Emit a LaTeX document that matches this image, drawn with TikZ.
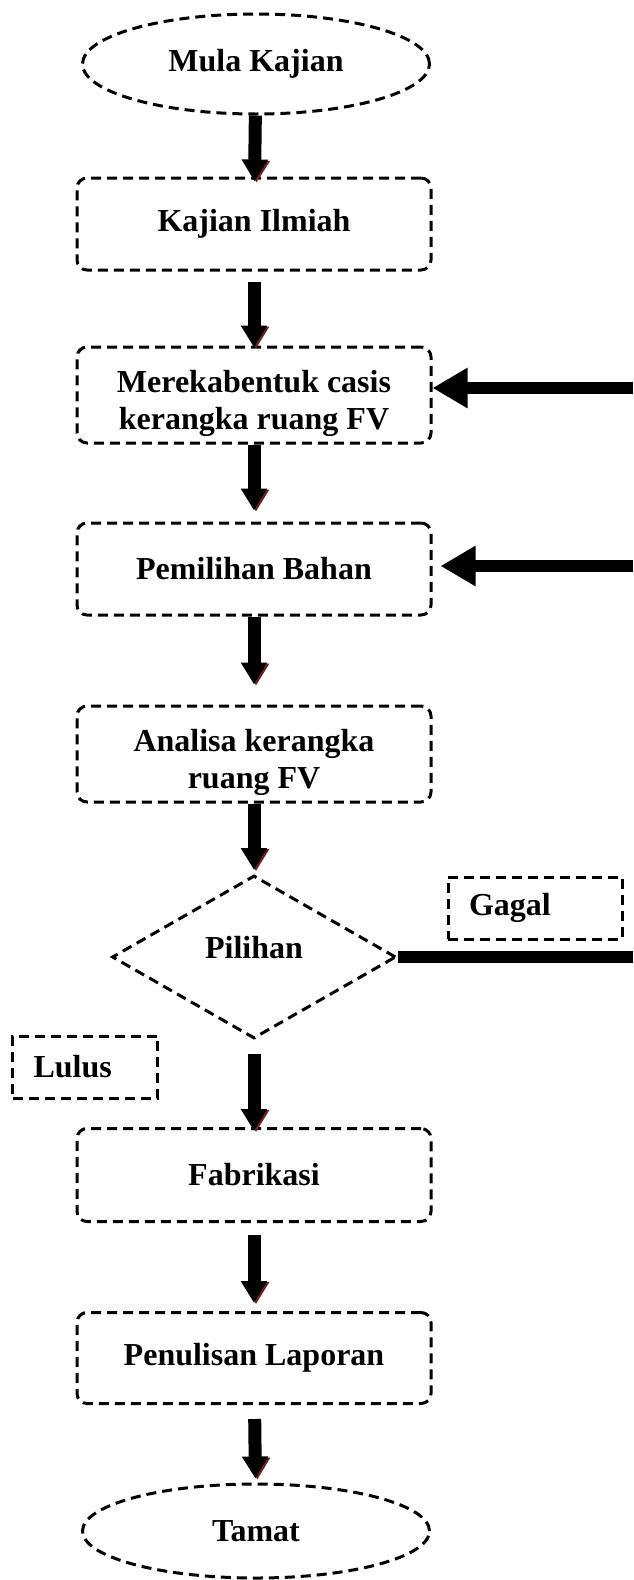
\documentclass[tikz,border=0pt]{standalone}
\usepackage{fontspec}
\setmainfont{Liberation Serif}
\usepackage{xcolor}
\usepackage{tikz}
\usetikzlibrary{positioning,shapes.geometric,arrows.meta}
\definecolor{shadowred}{RGB}{110,35,35}

\begin{document}
\begin{tikzpicture}[x=0.5pt,y=0.5pt,font=\bfseries\fontsize{16}{18.4}\selectfont,
 border/.style={draw,line width=1.5pt,dash pattern=on 5pt off 3pt},
 box/.style={border,rounded corners=5pt,align=center,inner sep=2pt,minimum width=177pt,minimum height=46pt},
 term/.style={border,ellipse,inner sep=0pt,minimum width=173.5pt,minimum height=50pt},
 tag/.style={border,align=left,inner xsep=10.5pt,inner ysep=0pt,minimum height=31pt},
 flow/.style={line width=6.5pt,-{Triangle[width=12.5pt,length=11pt]},
  preaction={draw=shadowred,-{Triangle[width=12.5pt,length=11pt]},transform canvas={xshift=1pt,yshift=-0.6pt}}},
 back/.style={line width=6pt,-{Triangle[width=19pt,length=17.5pt]}}]
\useasboundingbox (0,0) rectangle (633,-1580);
\node[term] (start) at (256,-64) {Mula Kajian};
\node[box] (kaji) at (254,-224) {Kajian Ilmiah};
\node[box,minimum height=48pt] (reka) at (254,-395) {\rule{0pt}{19.5pt}Merekabentuk casis\\ kerangka ruang FV};
\node[box] (bahan) at (254,-569) {Pemilihan Bahan};
\node[box,minimum height=48pt] (analisa) at (254,-754) {\rule{0pt}{19.5pt}Analisa kerangka\\ ruang FV};
\node[border,diamond,inner sep=0pt,text depth=10pt,minimum width=142pt,minimum height=81.5pt] (pilih) at (254,-957) {Pilihan};
\node[tag,text width=66pt] (gagal) at (535,-908) {Gagal};
\node[tag,text width=51.5pt] (lulus) at (85,-1067) {Lulus};
\node[box,minimum height=46.5pt] (fab) at (254,-1175) {Fabrikasi};
\node[box,minimum height=45.5pt] (lapor) at (254,-1358) {Penulisan Laporan};
\node[term,minimum height=47pt] (tamat) at (256,-1531) {Tamat};
\coordinate (r1) at (633,-388);
\coordinate (r2) at (633,-566);
\coordinate (r3) at (633,-961);
\draw[flow,shorten >=-2.5pt] (start) -- (kaji);
\draw[flow,shorten <=5pt,shorten >=-1pt] (kaji) -- (reka);
\draw[flow,shorten >=5.5pt] (reka) -- (bahan);
\draw[flow,shorten >=10pt] (bahan) -- (analisa);
\draw[flow,shorten >=2pt] (analisa) -- (pilih);
\draw[flow,shorten <=7pt,shorten >=-2pt] (pilih) -- (fab);
\draw[flow,shorten <=6pt,shorten >=4pt] (fab) -- (lapor);
\draw[flow,shorten <=7pt,shorten >=2pt] (lapor) -- (tamat);
\draw[back] (r1) -- (r1 -| reka.east);
\draw[back,shorten >=4pt] (r2) -- (r2 -| bahan.east);
\draw[line width=6pt] (pilih.east) -- (pilih.east -| r3);
\end{tikzpicture}
\end{document}
